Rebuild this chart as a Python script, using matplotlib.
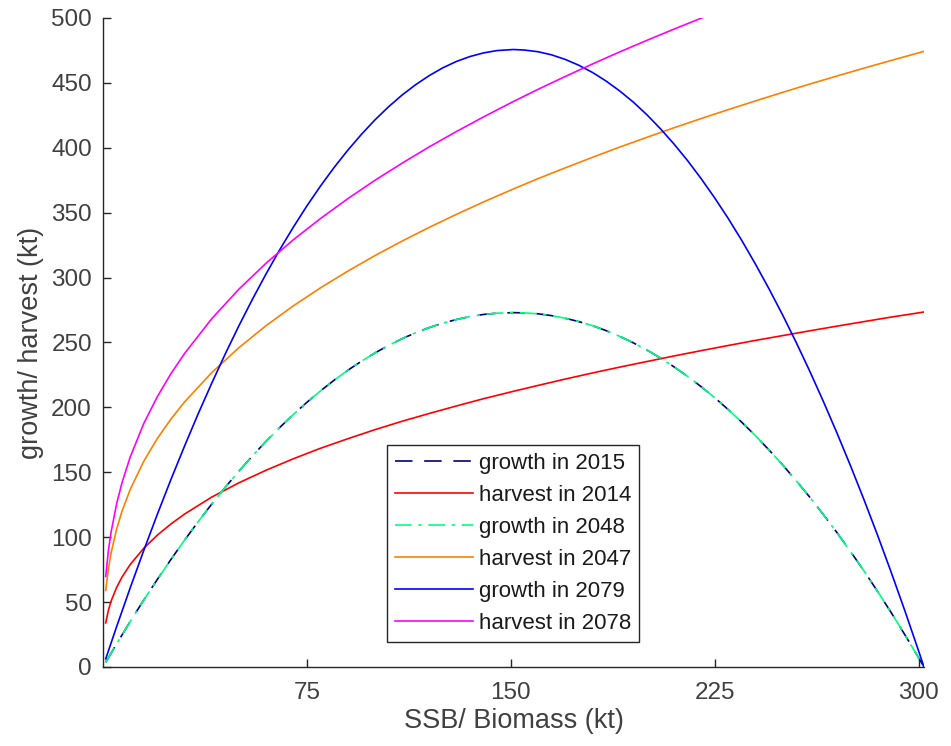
import matplotlib
matplotlib.use("Agg")
import matplotlib.pyplot as plt

# Growth curves (kt)
growth_biomass = [1, 5, 10, 15, 20, 25, 30, 35, 40, 45, 50, 55, 60, 65, 70,
                  75, 80, 85, 90, 95, 100, 105, 110, 115, 120, 125, 130, 135,
                  140, 145, 151, 155, 160, 165, 170, 175, 180, 185, 190, 195,
                  200, 205, 210, 215, 220, 225, 230, 235, 240, 245, 250, 255,
                  260, 265, 270, 275, 280, 285, 290, 295, 300, 302]
growth_2015 = [3.6, 17.8, 35.0, 51.6, 67.5, 82.9, 97.7, 111.9, 125.5, 138.5,
               150.9, 162.7, 173.9, 184.5, 194.5, 203.9, 212.7, 220.9, 228.5,
               235.5, 241.9, 247.7, 252.9, 257.5, 261.5, 264.9, 267.7, 270.0,
               271.6, 272.6, 273.0, 272.8, 272.1, 270.7, 268.7, 266.1, 263.0,
               259.2, 254.8, 249.8, 244.3, 238.1, 231.3, 224.0, 216.0, 207.5,
               198.3, 188.5, 178.2, 167.2, 155.7, 143.5, 130.8, 117.4, 103.5,
               88.9, 73.8, 58.0, 41.7, 24.7, 7.2, 0.0]
growth_2048 = list(growth_2015)
growth_2079 = [6.3, 31.0, 60.9, 89.8, 117.7, 144.5, 170.2, 195.0, 218.6, 241.3,
               262.9, 283.4, 302.9, 321.4, 338.8, 355.2, 370.5, 384.8, 398.0,
               410.2, 421.4, 431.5, 440.6, 448.6, 455.6, 461.6, 466.5, 470.3,
               473.1, 474.9, 475.7, 475.3, 474.0, 471.6, 468.1, 463.6, 458.1,
               451.5, 443.9, 435.3, 425.6, 414.8, 403.0, 390.2, 376.3, 361.4,
               345.5, 328.5, 310.4, 291.3, 271.2, 250.0, 227.8, 204.5, 180.2,
               154.9, 128.5, 101.1, 72.6, 43.1, 12.5, 0.0]

# Harvest curves (kt)
harvest_biomass = [1, 2, 3, 5, 7, 10, 15, 20, 25, 30, 40, 50, 60, 70, 80, 90,
                   100, 110, 120, 130, 140, 151, 160, 170, 180, 190, 200, 210,
                   220, 230, 240, 250, 260, 270, 280, 290, 296, 302]
harvest_2014 = [34.0, 43.8, 50.9, 61.2, 69.3, 78.9, 91.5, 101.6, 110.2, 117.8,
                130.9, 141.9, 151.6, 160.4, 168.5, 175.8, 182.8, 189.3, 195.3,
                201.1, 206.7, 212.4, 216.9, 221.8, 226.5, 231.0, 235.3, 239.6,
                243.7, 247.7, 251.6, 255.3, 259.0, 262.6, 266.1, 269.6, 271.5,
                273.5]
harvest_2047 = [59.0, 76.0, 88.1, 106.2, 120.0, 136.7, 158.5, 176.1, 191.0,
                204.2, 226.8, 246.0, 263.0, 278.2, 292.1, 304.9, 316.9, 328.1,
                338.7, 348.7, 358.3, 368.3, 376.2, 384.5, 392.6, 400.5, 408.0,
                415.4, 422.5, 429.4, 436.1, 442.7, 449.1, 455.3, 461.4, 467.3,
                470.8, 474.3]
harvest_2078 = [69.8, 89.9, 104.2, 125.6, 142.0, 161.7, 187.6, 208.3, 226.0,
                241.5, 268.3, 291.1, 311.1, 329.1, 345.5, 360.7, 374.9, 388.1,
                400.7, 412.5, 423.8, 435.7, 445.0, 454.9, 464.5, 473.8, 482.7,
                491.4, 499.8, 508.0, 516.0, 523.7, 531.3, 538.6, 545.8, 552.9,
                557.0, 561.1]

x_ticks = [75, 150, 225, 300]
y_ticks = list(range(0, 501, 50))

plt.rcParams["font.family"] = ["Liberation Sans", "DejaVu Sans"]
grey = "#262626"
text_grey = "#404040"

fig = plt.figure(figsize=(9.51, 7.46), dpi=100)
ax = fig.add_axes([0.1083, 0.1059, 0.8633, 0.870])

lw = 1.2
ax.plot(growth_biomass, growth_2015, color="#000080", lw=lw,
        dashes=(10.5, 7), label="growth in 2015")
ax.plot(harvest_biomass, harvest_2014, color="#ff0000", lw=lw,
        label="harvest in 2014")
ax.plot(growth_biomass, growth_2048, color="#00ff80", lw=lw,
        dashes=(10, 4, 2, 4), label="growth in 2048")
ax.plot(harvest_biomass, harvest_2047, color="#ff8000", lw=lw,
        label="harvest in 2047")
ax.plot(growth_biomass, growth_2079, color="#0000ff", lw=lw,
        label="growth in 2079")
ax.plot(harvest_biomass, harvest_2078, color="#ff00ff", lw=lw,
        label="harvest in 2078")

ax.set_xlim(0, 302)
ax.set_ylim(0, 500)
ax.set_xticks(x_ticks)
ax.set_yticks(y_ticks)

for side in ["top", "right"]:
    ax.spines[side].set_visible(False)
for side in ["left", "bottom"]:
    ax.spines[side].set_color(grey)
    ax.spines[side].set_linewidth(1.0)

ax.tick_params(direction="in", length=6, width=1.0, color=grey,
               labelcolor=text_grey, labelsize=17.5, pad=8)
ax.tick_params(axis="x", pad=11)

ax.set_xlabel("SSB/ Biomass (kt)", fontsize=19.5, color=text_grey, labelpad=3)
ax.set_ylabel("growth/ harvest (kt)", fontsize=19.5, color=text_grey,
              labelpad=5)

leg = ax.legend(loc="lower left", bbox_to_anchor=(0.346, 0.0385),
                borderaxespad=0, fontsize=16, handlelength=3.5,
                fancybox=False, framealpha=1, edgecolor=grey,
                labelspacing=0.5, borderpad=0.35, handletextpad=0.3)
leg.get_frame().set_linewidth(1.0)
for t in leg.get_texts():
    t.set_color("#1a1a1a")

fig.savefig("out.png", dpi=100)
